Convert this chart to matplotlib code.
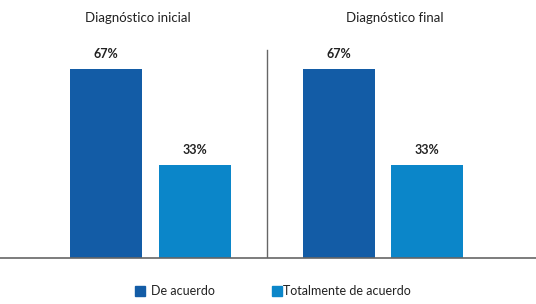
import matplotlib.pyplot as plt
from matplotlib.patches import Rectangle

plt.rcParams['font.family'] = ['Lato', 'DejaVu Sans']

groups = ['Diagnóstico inicial', 'Diagnóstico final']
series = ['De acuerdo', 'Totalmente de acuerdo']
de_acuerdo = [67, 67]
totalmente = [33, 33]
colors = ['#135CA6', '#0B86C9']

W, H = 536, 304
fig = plt.figure(figsize=(W / 100, H / 100), dpi=100)

# axes placed in pixel terms: baseline at y=258, 2.82 px per percent
base = 258
top = 30
ax = fig.add_axes([0, (H - base) / H, 1, (base - top) / H])
ax.set_ylim(0, (base - top) / 2.82)
ax.set_xlim(-150.5 / 232.5, (W - 150.5) / 232.5)

bw = 0.31
off = 0.191
x = range(len(groups))
for i in x:
    for val, dx, c in [(de_acuerdo[i], -off, colors[0]), (totalmente[i], off, colors[1])]:
        ax.bar(i + dx, val, width=bw, color=c)
        ax.text(i + dx, val + 3.2, f'{val}%', ha='center', va='bottom',
                fontsize=9, fontweight='bold', color='#222222')

# divider between groups
ax.plot([0.5, 0.5], [0, (base - 50) / 2.82], color='#666666', lw=1)

for s in ['top', 'right', 'left']:
    ax.spines[s].set_visible(False)
ax.spines['bottom'].set_color('#666666')
ax.spines['bottom'].set_linewidth(1.2)
ax.set_xticks([])
ax.set_yticks([])
ax.patch.set_alpha(0)

# group titles
for gx, g in zip([138, 394.5], groups):
    fig.text(gx / W, 1 - 18 / H, g, ha='center', va='center',
             fontsize=9.5, color='#222222')

# legend drawn by hand
for sx, tx, lab, c in [(135, 151, series[0], colors[0]), (272, 283, series[1], colors[1])]:
    fig.add_artist(Rectangle((sx / W, 1 - 296 / H), 10 / W, 10 / H,
                             transform=fig.transFigure, color=c))
    fig.text(tx / W, 1 - 291 / H, lab, ha='left', va='center',
             fontsize=9, color='#222222')

fig.savefig('out.png', dpi=100)
